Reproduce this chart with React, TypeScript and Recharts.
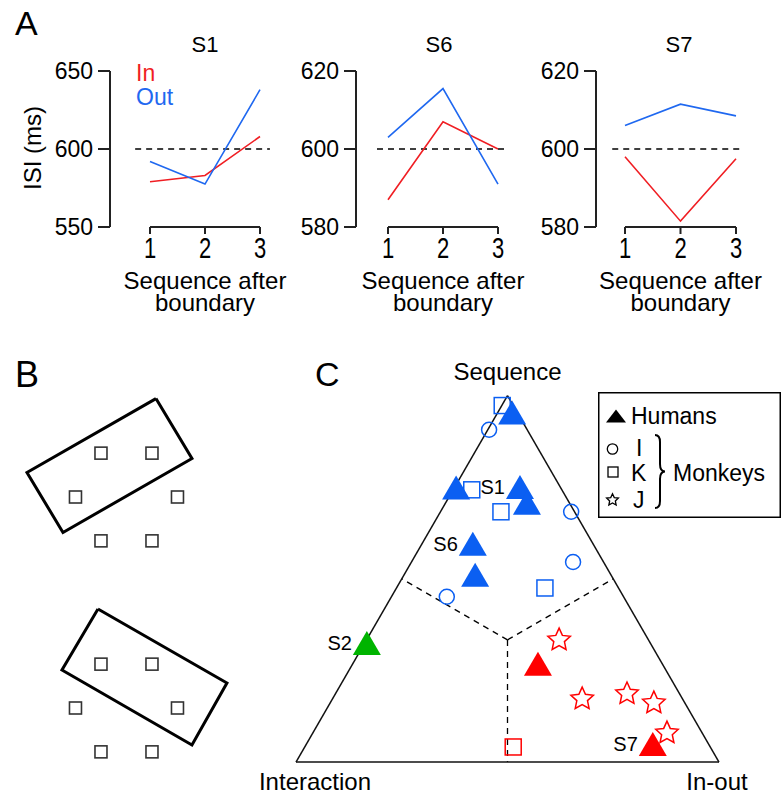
import React from 'react';
import { LineChart, Line, XAxis, YAxis, ReferenceLine, ReferenceDot, ScatterChart, Scatter, Legend } from 'recharts';

const FONT = '"Liberation Sans", Arial, Helvetica, sans-serif';
const RED = '#f01e23';
const BLUE = '#1f68f0';
const RED_M = '#ff0000';
const BLUE_M = '#0b5ff2';
const GREEN_M = '#00b400';

// ---- Panel A: ISI after boundary ----
const steps = [1, 2, 3];
const s1In = [579, 583, 608];
const s1Out = [592, 577.5, 638];
const s6In = [587, 607, 600];
const s6Out = [603, 615.5, 591];
const s7In = [598, 581.5, 597.5];
const s7Out = [606, 611.5, 608.5];
const s1Ticks = [550, 600, 650];
const s6Ticks = [580, 600, 620];
const s7Ticks = [580, 600, 620];
// extent of the dashed 600 ms line, in x units
const s1Dash = [0.73, 3.18];
const s6Dash = [0.8, 3.16];
const s7Dash = [0.77, 3.11];

// ---- Panel B: target layout (hexagon) and the two bars ----
const hexX = [-0.5, 0.5, -1, 1, -0.5, 0.5];
const hexY = [0.86, 0.86, 0, 0, -0.86, -0.86];
const barAX = [0.578, 1.284, -1.245, -1.951];
const barAY = [1.93, 0.755, -0.696, 0.48];
const barBX = [-0.559, 1.97, 1.284, -1.265];
const barBY = [1.94, 0.49, -0.725, 0.745];

// ---- Panel C: ternary weights (Sequence, In-out); Interaction = rest ----
const humanSeq = [0.954, 0.749, 0.751, 0.708, 0.596, 0.511, 0.325, 0.268, 0.049];
const humanInOut = [0.034, 0.004, 0.154, 0.192, 0.12, 0.168, 0.005, 0.438, 0.819];
const humanLabel = ['', '', 'S1', '', 'S6', '', 'S2', '', 'S7'];
const monkeyISeq = [0.907, 0.683, 0.546, 0.451];
const monkeyIInOut = [0.003, 0.309, 0.382, 0.131];
const monkeyKSeq = [0.973, 0.743, 0.683, 0.475, 0.041];
const monkeyKInOut = [0.001, 0.044, 0.143, 0.351, 0.493];
const monkeyJSeq = [0.336, 0.175, 0.189, 0.164, 0.082];
const monkeyJInOut = [0.454, 0.589, 0.688, 0.764, 0.836];
const cornerSeq = [1, 0, 0];
const cornerInOut = [0, 0, 1];
const cornerNames = ['Sequence', 'Interaction', 'In-out'];
const splitSeq = [0.5, 0.5, 0];
const splitInOut = [0, 0.5, 0.5];

const SQRT3_2 = Math.sqrt(3) / 2;
const toXY = (seq: number, io: number) => ({ x: io + seq / 2, y: seq * SQRT3_2 });
const regionColor = (seq: number, io: number) => {
  const inter = 1 - seq - io;
  if (seq >= io && seq >= inter) return BLUE_M;
  if (io >= inter) return RED_M;
  return GREEN_M;
};
const buildPoints = (seqs: number[], ios: number[], labels?: string[]) =>
  seqs.map((s, i) => ({ ...toXY(s, ios[i]), color: regionColor(s, ios[i]), label: labels ? labels[i] : '' }));

const starPath = (cx: number, cy: number, R: number, r: number) => {
  let d = '';
  for (let i = 0; i < 10; i++) {
    const rad = i % 2 === 0 ? R : r;
    const a = -Math.PI / 2 + (i * Math.PI) / 5;
    d += (i === 0 ? 'M' : 'L') + (cx + rad * Math.cos(a)).toFixed(2) + ',' + (cy + rad * Math.sin(a)).toFixed(2);
  }
  return d + 'Z';
};

// layout of panel A (page pixels)
const A_TOP = 55;
const A_BOTTOM = 322;
const PLOT_TOP = 71;
const PLOT_BOTTOM = 227;
const A_RIGHT_PAD = 45;

const StretchTick = (props: any) => {
  const { x, y, payload } = props;
  return (
    <g transform={`translate(${x},${y + 22})`}>
      <text transform="scale(1,1.35)" textAnchor="middle" fontSize={22} fontFamily={FONT} fill="#000">
        {payload.value}
      </text>
    </g>
  );
};

const InOutLegend = (props: any) => (
  <div style={{ fontFamily: FONT, fontSize: 23, lineHeight: '24px', textAlign: 'left' }}>
    {(props.payload || []).map((e: any) => (
      <div key={e.value} style={{ color: e.color }}>{e.value}</div>
    ))}
  </div>
);

interface IsiProps {
  inVals: number[];
  outVals: number[];
  yTicks: number[];
  dash: number[];
  axisX: number;
  x1: number;
  x3: number;
  yAxisWidth: number;
  withLegend?: boolean;
  yLabel?: boolean;
}

const IsiPanel: React.FC<IsiProps> = ({ inVals, outVals, yTicks, dash, axisX, x1, x3, yAxisWidth, withLegend, yLabel }) => {
  const unit = (x3 - x1) / 2;
  const plotRight = Math.max(x3 + 12, x1 + (dash[1] - 1) * unit + 2);
  const left = axisX - yAxisWidth;
  const width = plotRight - left + A_RIGHT_PAD;
  const height = A_BOTTOM - A_TOP;
  const margin = { top: PLOT_TOP - A_TOP, right: A_RIGHT_PAD, bottom: 0, left: 0 };
  const xAxisHeight = height - margin.top - (PLOT_BOTTOM - PLOT_TOP);
  const xDomain = [1 - (x1 - axisX) / unit, 3 + (plotRight - x3) / unit];
  const midX = x1 + unit - left;
  const yMin = yTicks[0];
  const yMax = yTicks[yTicks.length - 1];
  const rows = steps.map((s, i) => ({ step: s, inISI: inVals[i], outISI: outVals[i] }));

  return (
    <div style={{ position: 'absolute', left, top: A_TOP }}>
      <LineChart width={width} height={height} data={rows} margin={margin}>
        <XAxis
          type="number"
          dataKey="step"
          domain={xDomain}
          allowDataOverflow
          ticks={steps}
          axisLine={false}
          tickSize={7}
          tickLine={{ stroke: '#222', strokeWidth: 2 }}
          tick={<StretchTick />}
          height={xAxisHeight}
          label={() => (
            <g fontFamily={FONT} fontSize={24} fill="#000">
              <text x={midX} y={289 - A_TOP} textAnchor="middle">Sequence after</text>
              <text x={midX} y={311 - A_TOP} textAnchor="middle">boundary</text>
            </g>
          )}
        />
        <YAxis
          type="number"
          domain={[yMin, yMax]}
          allowDataOverflow
          ticks={yTicks}
          width={yAxisWidth}
          tickSize={12}
          tickMargin={5}
          axisLine={{ stroke: '#222', strokeWidth: 2 }}
          tickLine={{ stroke: '#222', strokeWidth: 2 }}
          tick={{ fontSize: 23, fill: '#000', fontFamily: FONT }}
          label={
            yLabel
              ? () => (
                  <text
                    x={33 - left}
                    y={148 - A_TOP}
                    transform={`rotate(-90 ${33 - left} ${148 - A_TOP})`}
                    textAnchor="middle"
                    dy="0.35em"
                    fontSize={24}
                    fontFamily={FONT}
                    fill="#000"
                  >
                    ISI (ms)
                  </text>
                )
              : undefined
          }
        />
        <ReferenceLine segment={[{ x: 1, y: yMin }, { x: 3, y: yMin }]} stroke="#222" strokeWidth={2} />
        <ReferenceLine segment={[{ x: dash[0], y: 600 }, { x: dash[1], y: 600 }]} stroke="#000" strokeWidth={1.6} strokeDasharray="6 5" />
        <Line dataKey="inISI" name="In" stroke={RED} strokeWidth={1.6} dot={false} isAnimationActive={false} />
        <Line dataKey="outISI" name="Out" stroke={BLUE} strokeWidth={1.6} dot={false} isAnimationActive={false} />
        {withLegend && (
          <Legend
            layout="horizontal"
            verticalAlign="middle"
            align="center"
            content={<InOutLegend />}
            wrapperStyle={{ position: 'absolute', left: 126, top: 6, width: 'auto' }}
          />
        )}
      </LineChart>
    </div>
  );
};

const noMark = () => <g />;
const targetSquare = (props: any) => (
  <rect x={props.cx - 6} y={props.cy - 6} width={12} height={12} fill="none" stroke="#333" strokeWidth={1.6} />
);

const TargetPanel: React.FC<{ barX: number[]; barY: number[]; top: number }> = ({ barX, barY, top }) => {
  const outline = [...barX, barX[0]].map((x, i) => ({ x, y: [...barY, barY[0]][i] }));
  const targets = hexX.map((x, i) => ({ x, y: hexY[i] }));
  return (
    <div style={{ position: 'absolute', left: 0, top }}>
      <ScatterChart width={250} height={230} margin={{ top: 0, right: 0, bottom: 0, left: 0 }}>
        <XAxis type="number" dataKey="x" domain={[-2.48, 2.422]} allowDataOverflow hide />
        <YAxis type="number" dataKey="y" domain={[-2.255, 2.255]} allowDataOverflow hide />
        <Scatter
          data={outline}
          line={{ stroke: '#000', strokeWidth: 3, strokeLinejoin: 'miter' }}
          shape={noMark}
          isAnimationActive={false}
        />
        <Scatter data={targets} shape={targetSquare} isAnimationActive={false} />
      </ScatterChart>
    </div>
  );
};

const humanShape = (props: any) => {
  const { cx, cy, payload } = props;
  const w = 28;
  const h = 24;
  return (
    <g>
      <polygon points={`${cx},${cy - h / 2} ${cx + w / 2},${cy + h / 2} ${cx - w / 2},${cy + h / 2}`} fill={payload.color} />
      {payload.label ? (
        <text x={cx - 15} y={cy + 7} textAnchor="end" fontSize={20} fontFamily={FONT} fill="#000">
          {payload.label}
        </text>
      ) : null}
    </g>
  );
};
const circleShape = (props: any) => (
  <circle cx={props.cx} cy={props.cy} r={7.5} fill="none" stroke={props.payload.color} strokeWidth={1.5} />
);
const squareShape = (props: any) => (
  <rect x={props.cx - 8} y={props.cy - 8} width={16} height={16} fill="none" stroke={props.payload.color} strokeWidth={1.5} />
);
const starShape = (props: any) => (
  <path d={starPath(props.cx, props.cy + 1, 11.8, 5.6)} fill="none" stroke={props.payload.color} strokeWidth={1.5} />
);

const TernaryLegend = () => (
  <div style={{ width: 183, height: 126 }}>
    <svg width={183} height={126} fontFamily={FONT} fontSize={23}>
      <rect x={0.75} y={0.75} width={181.5} height={124.5} fill="#fff" stroke="#000" strokeWidth={1.5} />
      <polygon points="18,17.5 28,30.5 8,30.5" fill="#000" />
      <circle cx={14.5} cy={57} r={5.2} fill="none" stroke="#000" strokeWidth={1.3} />
      <rect x={10} y={75} width={10} height={10} fill="none" stroke="#000" strokeWidth={1.3} />
      <path d={starPath(14.5, 108, 6.2, 3)} fill="none" stroke="#000" strokeWidth={1.3} />
      <path d="M57,43 Q62,43 62,50 L62,72 Q62,79.5 67,79.5 Q62,79.5 62,87 L62,109 Q62,116 57,116" fill="none" stroke="#000" strokeWidth={2} />
      <text x={33} y={32}>Humans</text>
      <text x={38} y={64}>I</text>
      <text x={33} y={89}>K</text>
      <text x={35} y={116}>J</text>
      <text x={75} y={89}>Monkeys</text>
    </svg>
  </div>
);

const cornerOffsets = [
  [0, -16],
  [19, 28],
  [-2, 28],
];

const TernaryPanel: React.FC = () => {
  const corners = cornerSeq.map((s, i) => toXY(s, cornerInOut[i]));
  const center = toXY(1 / 3, 1 / 3);
  const splits = splitSeq.map((s, i) => toXY(s, splitInOut[i]));
  const humans = buildPoints(humanSeq, humanInOut, humanLabel);
  const monkI = buildPoints(monkeyISeq, monkeyIInOut);
  const monkK = buildPoints(monkeyKSeq, monkeyKInOut);
  const monkJ = buildPoints(monkeyJSeq, monkeyJInOut);
  const edges = [
    [corners[0], corners[1]],
    [corners[1], corners[2]],
    [corners[2], corners[0]],
  ];
  return (
    <div style={{ position: 'absolute', left: 250, top: 340 }}>
      <ScatterChart width={533} height={455} margin={{ top: 0, right: 0, bottom: 0, left: 0 }}>
        <XAxis type="number" dataKey="x" domain={[-0.10875, 1.1513]} allowDataOverflow hide />
        <YAxis type="number" dataKey="y" domain={[-0.078, 0.9976]} allowDataOverflow hide />
        {splits.map((p, i) => (
          <ReferenceLine key={`split-${i}`} segment={[center, p]} stroke="#000" strokeWidth={1.3} strokeDasharray="6 5" />
        ))}
        {edges.map((e, i) => (
          <ReferenceLine key={`edge-${i}`} segment={e} stroke="#111" strokeWidth={1.5} />
        ))}
        {corners.map((c, i) => (
          <ReferenceDot
            key={`corner-${i}`}
            x={c.x}
            y={c.y}
            r={1}
            fill="none"
            stroke="none"
            label={(lp: any) => {
              const vb = lp.viewBox || {};
              const cx = vb.x + (vb.width || 0) / 2;
              const cy = vb.y + (vb.height || 0) / 2;
              return (
                <text x={cx + cornerOffsets[i][0]} y={cy + cornerOffsets[i][1]} textAnchor="middle" fontSize={24} fontFamily={FONT} fill="#000">
                  {cornerNames[i]}
                </text>
              );
            }}
          />
        ))}
        <Scatter data={monkK} shape={squareShape} isAnimationActive={false} />
        <Scatter data={monkI} shape={circleShape} isAnimationActive={false} />
        <Scatter data={monkJ} shape={starShape} isAnimationActive={false} />
        <Scatter data={humans} shape={humanShape} isAnimationActive={false} />
        <Legend
          layout="horizontal"
          verticalAlign="middle"
          align="center"
          content={<TernaryLegend />}
          wrapperStyle={{ position: 'absolute', left: 348, top: 52, width: 183, height: 126 }}
        />
      </ScatterChart>
    </div>
  );
};

export default function App() {
  return (
    <div style={{ position: 'absolute', left: 0, top: 0, width: 783, height: 795, background: '#fff', overflow: 'hidden', fontFamily: FONT }}>
      <svg width={783} height={795} style={{ position: 'absolute', left: 0, top: 0 }} fontFamily={FONT} fill="#000">
        <text x={15} y={35} fontSize={34}>A</text>
        <text x={15} y={387} fontSize={36}>B</text>
        <text x={315} y={386} fontSize={34}>C</text>
        <text x={205} y={52} fontSize={22} textAnchor="middle">S1</text>
        <text x={439} y={52} fontSize={22} textAnchor="middle">S6</text>
        <text x={679} y={52} fontSize={22} textAnchor="middle">S7</text>
      </svg>
      <IsiPanel inVals={s1In} outVals={s1Out} yTicks={s1Ticks} dash={s1Dash} axisX={110} x1={150} x3={260} yAxisWidth={100} withLegend yLabel />
      <IsiPanel inVals={s6In} outVals={s6Out} yTicks={s6Ticks} dash={s6Dash} axisX={356} x1={388} x3={498} yAxisWidth={70} />
      <IsiPanel inVals={s7In} outVals={s7Out} yTicks={s7Ticks} dash={s7Dash} axisX={596} x1={625} x3={736} yAxisWidth={70} />
      <TargetPanel barX={barAX} barY={barAY} top={381.5} />
      <TargetPanel barX={barBX} barY={barBY} top={593} />
      <TernaryPanel />
    </div>
  );
}
